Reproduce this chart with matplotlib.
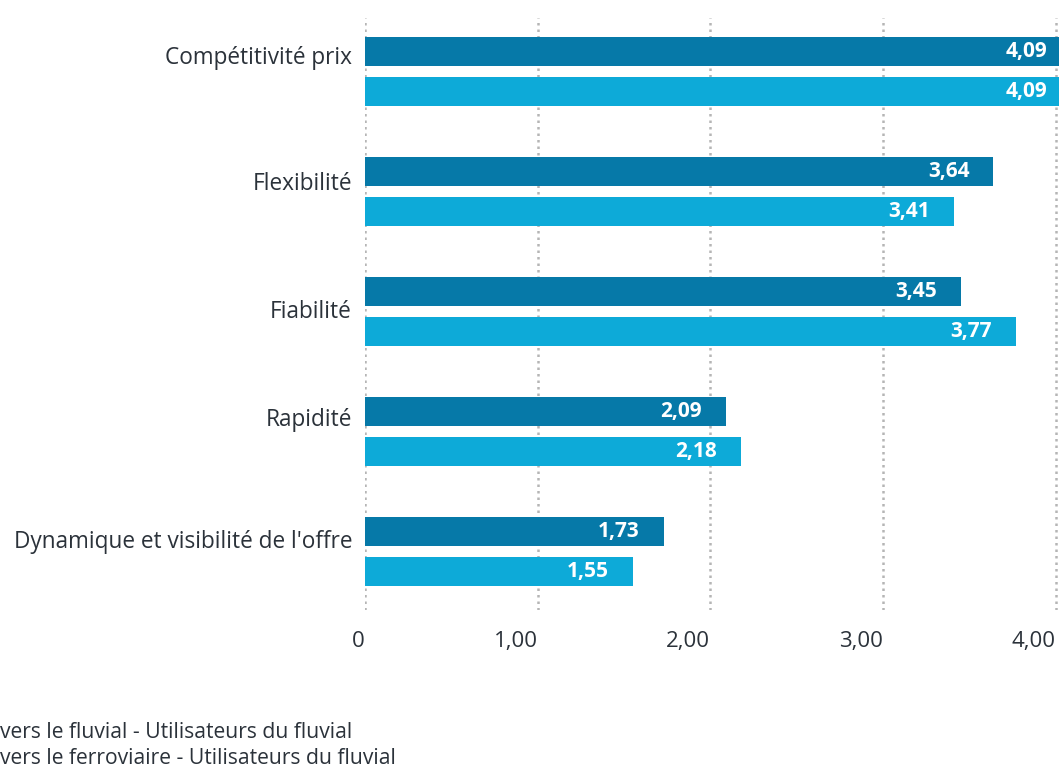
import numpy as np
import matplotlib
matplotlib.use("Agg")
import matplotlib.pyplot as plt

categories = [
    "Compétitivité prix",
    "Flexibilité",
    "Fiabilité",
    "Rapidité",
    "Dynamique et visibilité de l'offre",
]
fluvial = [4.09, 3.64, 3.45, 2.09, 1.73]
ferroviaire = [4.09, 3.41, 3.77, 2.18, 1.55]
series_labels = [
    "vers le fluvial - Utilisateurs du fluvial",
    "vers le ferroviaire - Utilisateurs du fluvial",
]
x_ticks = [0, 1, 2, 3, 4]
x_tick_labels = ["0", "1,00", "2,00", "3,00", "4,00"]

# layout (not data): small vertical nudges of the category labels
label_shift = [-0.11, -0.06, 0.0, -0.10, -0.08]

dark = "#0679a8"
light = "#0daad8"
text_col = "#2b323a"

plt.rcParams["font.family"] = ["Open Sans", "DejaVu Sans"]

fig = plt.figure(figsize=(10.59, 7.69), dpi=100)
ax = fig.add_axes([365 / 1059, 1 - 610 / 769, 1 - 365 / 1059, (610 - 18) / 769])

y = np.arange(len(categories))
off = 0.1667
h = 0.242

ax.barh(y - off, fluvial, height=h, color=dark, zorder=2)
ax.barh(y + off, ferroviaire, height=h, color=light, zorder=2)

ax.set_xlim(0, 4.02)
ax.set_ylim(len(categories) - 1 + 0.4875, -0.446)

for xv in x_ticks:
    ax.axvline(xv, color="#b5b5b5", linestyle=(0, (1, 1.6)), linewidth=1.8, zorder=1)

px = 4.02 / (1059 - 365)
for i in range(len(categories)):
    for val, yy in ((fluvial[i], y[i] - off), (ferroviaire[i], y[i] + off)):
        ax.text(val - 24 * px, yy, f"{val:.2f}".replace(".", ","), ha="right", va="center",
                color="white", fontsize=15, fontweight="bold", zorder=3)
    ax.text(-13 * px, y[i] + label_shift[i], categories[i], ha="right", va="center",
            color=text_col, fontsize=16.3, clip_on=False)

ax.set_yticks([])
ax.set_xticks(x_ticks)
ax.set_xticklabels(x_tick_labels, ha="right", fontsize=16, color=text_col)
ax.tick_params(axis="x", length=0, pad=15)
for s in ax.spines.values():
    s.set_visible(False)

fig.text(0.0, 1 - 733 / 769, series_labels[0], ha="left", va="center", fontsize=15.2, color=text_col)
fig.text(0.0, 1 - 759 / 769, series_labels[1], ha="left", va="center", fontsize=15.2, color=text_col)

fig.savefig("out.png", dpi=100)
